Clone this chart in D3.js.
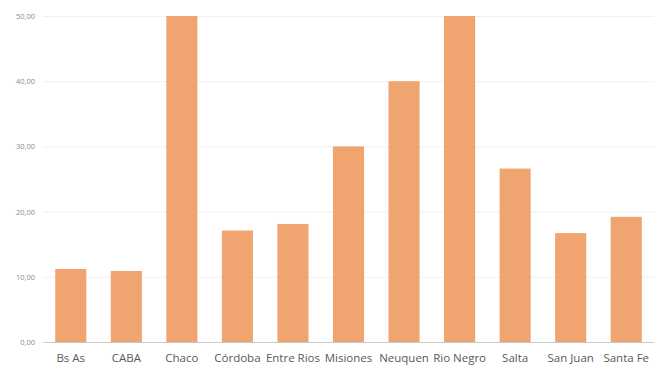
<!DOCTYPE html>
<html lang="es">
<head>
<meta charset="UTF-8">
<title>Provincias</title>
<style>
    body{ margin:0; background:#fff; }
    svg{ display:block; }
    .grid line{ stroke:#f0f0f0; stroke-width:1px; }
    .grid .domain{ display:none; }
    .yaxis text{ font-family:"Open Sans", sans-serif; font-size:7.5px; fill:#8c8c8c; }
    .yaxis .domain, .yaxis line{ display:none; }
    .xaxis text{ font-family:"Open Sans", sans-serif; font-size:11.5px; fill:#595959; }
    .xaxis .domain{ stroke:#c8c8c8; }
    .xaxis line{ display:none; }
    .bar{ fill:#f0a46f; }
</style>
<script src="https://cdn.jsdelivr.net/npm/d3@7"></script>
</head>
<body>
<script>
const provincias = ["Bs As","CABA","Chaco","Córdoba","Entre Rios","Misiones","Neuquen","Rio Negro","Salta","San Juan","Santa Fe"];
const valores = [11.2, 10.9, 50, 17.1, 18.1, 30, 40, 50, 26.6, 16.7, 19.2];
const yTicks = [0, 10, 20, 30, 40, 50];

const width = 660, height = 367;
const margins = {top:16, bottom:25, left:43, right:6};

const svg = d3.select("body").append("svg")
    .attr("width", width)
    .attr("height", height);

const xScale = d3.scaleBand()
    .domain(provincias)
    .range([margins.left, width - margins.right])
    .paddingInner(0.44)
    .paddingOuter(0.22);

const yScale = d3.scaleLinear()
    .domain([0, 50])
    .range([height - margins.bottom, margins.top]);

// gridlines
svg.append("g")
    .attr("class", "grid")
    .attr("transform", `translate(${margins.left},0)`)
    .call(d3.axisLeft(yScale).tickValues(yTicks)
        .tickSize(-(width - margins.left - margins.right)).tickFormat(""));

// y labels
const fmt = d => d3.format(".2f")(d).replace(".", ",");
svg.append("g")
    .attr("class", "yaxis")
    .attr("transform", `translate(${margins.left - 8},0)`)
    .call(d3.axisLeft(yScale).tickValues(yTicks).tickSize(0).tickPadding(0).tickFormat(fmt));

// bars
svg.append("g")
    .selectAll("rect")
    .data(valores)
    .enter()
    .append("rect")
    .attr("class", "bar")
    .attr("x", (d, i) => xScale(provincias[i]))
    .attr("width", xScale.bandwidth())
    .attr("y", d => yScale(d))
    .attr("height", d => yScale(0) - yScale(d));

// x axis
svg.append("g")
    .attr("class", "xaxis")
    .attr("transform", `translate(0,${height - margins.bottom})`)
    .call(d3.axisBottom(xScale).tickSize(0).tickPadding(12).tickSizeOuter(0));
</script>
</body>
</html>
